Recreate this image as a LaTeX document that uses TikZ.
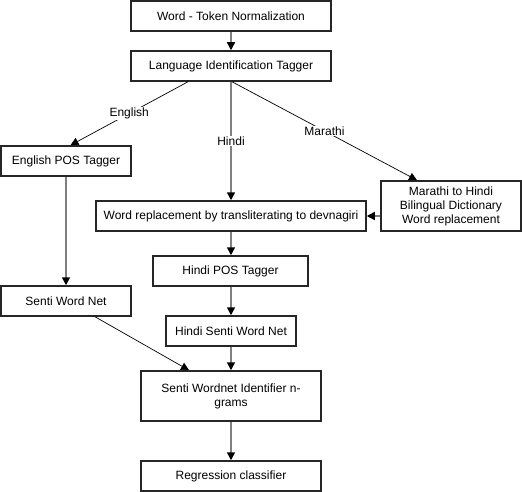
\documentclass[tikz,border=0pt]{standalone}
\usepackage{fontspec}
\setmainfont{Liberation Sans}
\usetikzlibrary{arrows.meta,calc}
\begin{document}
\begin{tikzpicture}[x=1pt,y=-1pt,
  box/.style={draw=black!85,line width=1.5pt,rectangle,inner sep=0pt,align=center,font=\fontsize{12}{14}\selectfont},
  garrow/.style={draw=black!50,line width=1.5pt,-{Triangle[width=8pt,length=8pt,color=black]}},
  tarrow/.style={draw=black,line width=0.7pt,-{Triangle[width=8pt,length=8pt,color=black]}},
  lbl/.style={fill=white,inner sep=1pt,font=\fontsize{12}{14}\selectfont}]
\useasboundingbox (0,0) rectangle (522,492);
\node[box,minimum width=200pt,minimum height=30pt] (WTN) at (231,16) {Word - Token Normalization};
\node[box,minimum width=200pt,minimum height=30pt] (LIT) at (231,66) {Language Identification Tagger};
\node[box,minimum width=130pt,minimum height=30pt] (EPOS) at (66,161) {English POS Tagger};
\node[box,minimum width=140pt,minimum height=50pt] (MAR) at (451,206) {Marathi to Hindi\\Bilingual Dictionary\\Word replacement};
\node[box,minimum width=270pt,minimum height=30pt] (WR) at (231,216) {Word replacement by transliterating to devnagiri};
\node[box,minimum width=155pt,minimum height=30pt] (HPOS) at (230.5,271) {Hindi POS Tagger};
\node[box,minimum width=130pt,minimum height=30pt] (SWN) at (66,301) {Senti Word Net};
\node[box,minimum width=130pt,minimum height=30pt] (HSWN) at (231,331) {Hindi Senti Word Net};
\node[box,minimum width=180pt,minimum height=50pt] (SWI) at (231,396) {Senti Wordnet Identifier n-\\grams};
\node[box,minimum width=180pt,minimum height=30pt] (REG) at (231,476) {Regression classifier};

\draw[garrow] (WTN.south) -- (LIT.north);
\draw[tarrow] ($(LIT.south)+(-43,0)$) -- node[lbl] (lEn) {English} ($(EPOS.north)+(4.5,0)$);
\draw[garrow] (LIT.south) -- node[lbl] (lHi) {Hindi} (WR.north);
\draw[tarrow] ($(LIT.south)+(1,0)$) -- node[lbl] (lMa) {Marathi} ($(MAR.north)+(-34,0)$);
\draw[garrow] (MAR.west |- WR.east) -- (WR.east);
\draw[garrow] (EPOS.south) -- (SWN.north);
\draw[garrow] (WR.south) -- (WR.south |- HPOS.north);
\draw[garrow] (HPOS.south -| HSWN.north) -- (HSWN.north);
\draw[garrow] (HSWN.south) -- (SWI.north);
\draw[tarrow] ($(SWN.south)+(29,0)$) -- ($(SWI.north)+(-42,0)$);
\draw[garrow] (SWI.south) -- (REG.north);
\end{tikzpicture}
\end{document}
